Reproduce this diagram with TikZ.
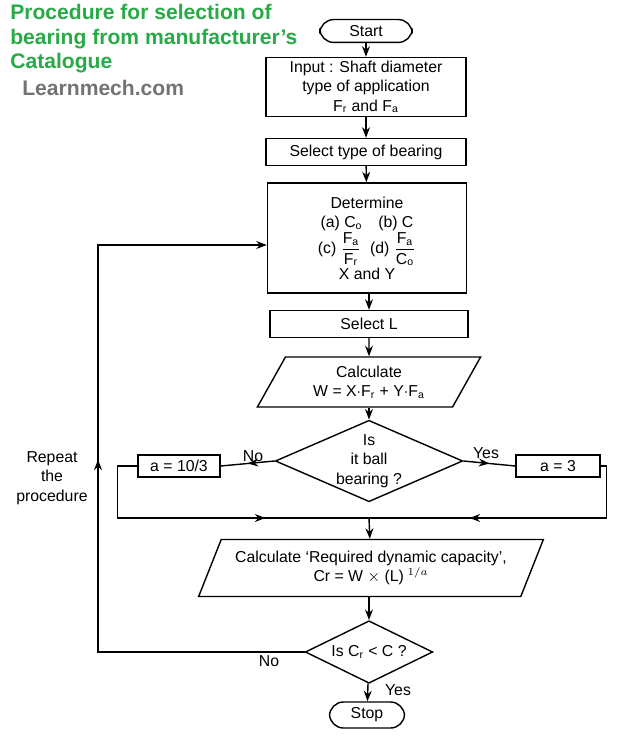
\documentclass[tikz,border=0pt]{standalone}
\usepackage{amsmath}
\usepackage{fontspec}
\setmainfont{Liberation Sans}
\usetikzlibrary{arrows.meta,positioning,shapes.geometric,calc,decorations.markings}
\definecolor{titlegreen}{RGB}{40,170,70}
\begin{document}
\begin{tikzpicture}[x=0.02cm,y=-0.02cm,
  box/.style={rectangle, draw, thick, align=center, font=\small, inner sep=2pt},
  io/.style={trapezium, trapezium left angle=65, trapezium right angle=115, draw, thick, align=center, font=\small, trapezium stretches=true},
  dec/.style={diamond, draw, thick, align=center, font=\small, aspect=2.3, inner sep=0pt},
  term/.style={rectangle, rounded corners=8pt, draw, thick, font=\small, minimum width=1.85cm, minimum height=0.45cm},
  arrow/.style={-{Stealth[length=6pt]}, thick},
  midarrow/.style={thick, postaction={decorate}, decoration={markings, mark=at position #1 with {\arrow{Stealth[length=6pt]}}}},
  lbl/.style={font=\small}
]
\useasboundingbox (0,0) rectangle (640,742);

% Title
\node[anchor=north west, align=left, font=\bfseries\large, text=titlegreen, inner sep=0pt] (title) at (10,4) {Procedure for selection of\\bearing from manufacturer's\\Catalogue};
\node[anchor=west, font=\bfseries\large, text=black!55, inner sep=0pt] (web) at (22,88) {Learnmech.com};

% Nodes
\node[term] (start) at (366,31) {Start};
\node[box, minimum width=4cm, minimum height=1cm] (input) at (366,87) {Input : Shaft diameter\\type of application\\F$_\mathrm{r}$ and F$_\mathrm{a}$};
\node[box, minimum width=4cm, minimum height=0.54cm] (type) at (366,152) {Select type of bearing};
\node[box, minimum width=3.98cm, minimum height=2.2cm] (det) at (367,238) {Determine\\(a) C$_\mathrm{o}$\quad(b) C\\
  (c) $\dfrac{\mathrm{F_a}}{\mathrm{F_r}}$\;\;(d) $\dfrac{\mathrm{F_a}}{\mathrm{C_o}}$\\ X and Y};
\node[box, minimum width=3.96cm, minimum height=0.54cm] (selL) at (369,324) {Select L};
\node[io, minimum width=4.5cm, minimum height=1cm] (calcW) at (369,382) {Calculate\\W = X$\cdot$F$_\mathrm{r}$ + Y$\cdot$F$_\mathrm{a}$};
\node[dec, minimum width=3.4cm, minimum height=1.45cm] (ball) at (369,461) {Is\\it ball\\bearing ?};
\node[box, minimum width=1.64cm, minimum height=0.44cm] (aroll) at (179,466) {a = 10/3};
\node[box, minimum width=1.68cm, minimum height=0.44cm] (aball) at (558,466) {a = 3};
\node[io, minimum width=6.9cm, minimum height=1.14cm] (calcC) at (371,568) {Calculate `Required dynamic capacity',\\Cr = W $\times$ (L)$^{\;1/a}$};
\node[dec, minimum width=2.55cm, minimum height=1.25cm] (check) at (369,652) {Is C$_\mathrm{r}$ < C ?};
\node[term, minimum width=1.5cm] (stop) at (367,715) {Stop};

\coordinate (jn) at (369,518);
\coordinate (lp) at (98,652);

% Arrows
\draw[arrow] (start) -- (input);
\draw[arrow] (input) -- (type);
\draw[arrow] (type) -- (det);
\draw[arrow] (det.south -| selL) -- (selL);
\draw[arrow] (selL) -- (calcW);
\draw[arrow] (calcW.south -| ball) -- (ball);
\draw[midarrow=0.5] (ball.west) -- (aroll.east);
\draw[midarrow=0.5] (ball.east) -- (aball.west);
\draw[midarrow=0.68] (aroll.west) -- ++(-20,0) |- (jn);
\draw[midarrow=0.66] (aball.east) -- ++(6,0) |- (jn);
\draw[arrow] (jn) -- (calcC);
\draw[arrow] (calcC.south -| check) -- (check);
\draw[arrow] (check) -- (stop);
\draw[midarrow=0.51, -{Stealth[length=6pt]}] (check.west) -- (lp) |- (det.west |- 0,245);

% Labels
\node[lbl] at (253,456) {No};
\node[lbl] at (486,453) {Yes};
\node[lbl] at (269,661) {No};
\node[lbl] at (398,690) {Yes};
\node[lbl, align=center] (repeat) at (52,478) {Repeat\\the\\procedure};

\end{tikzpicture}
\end{document}
